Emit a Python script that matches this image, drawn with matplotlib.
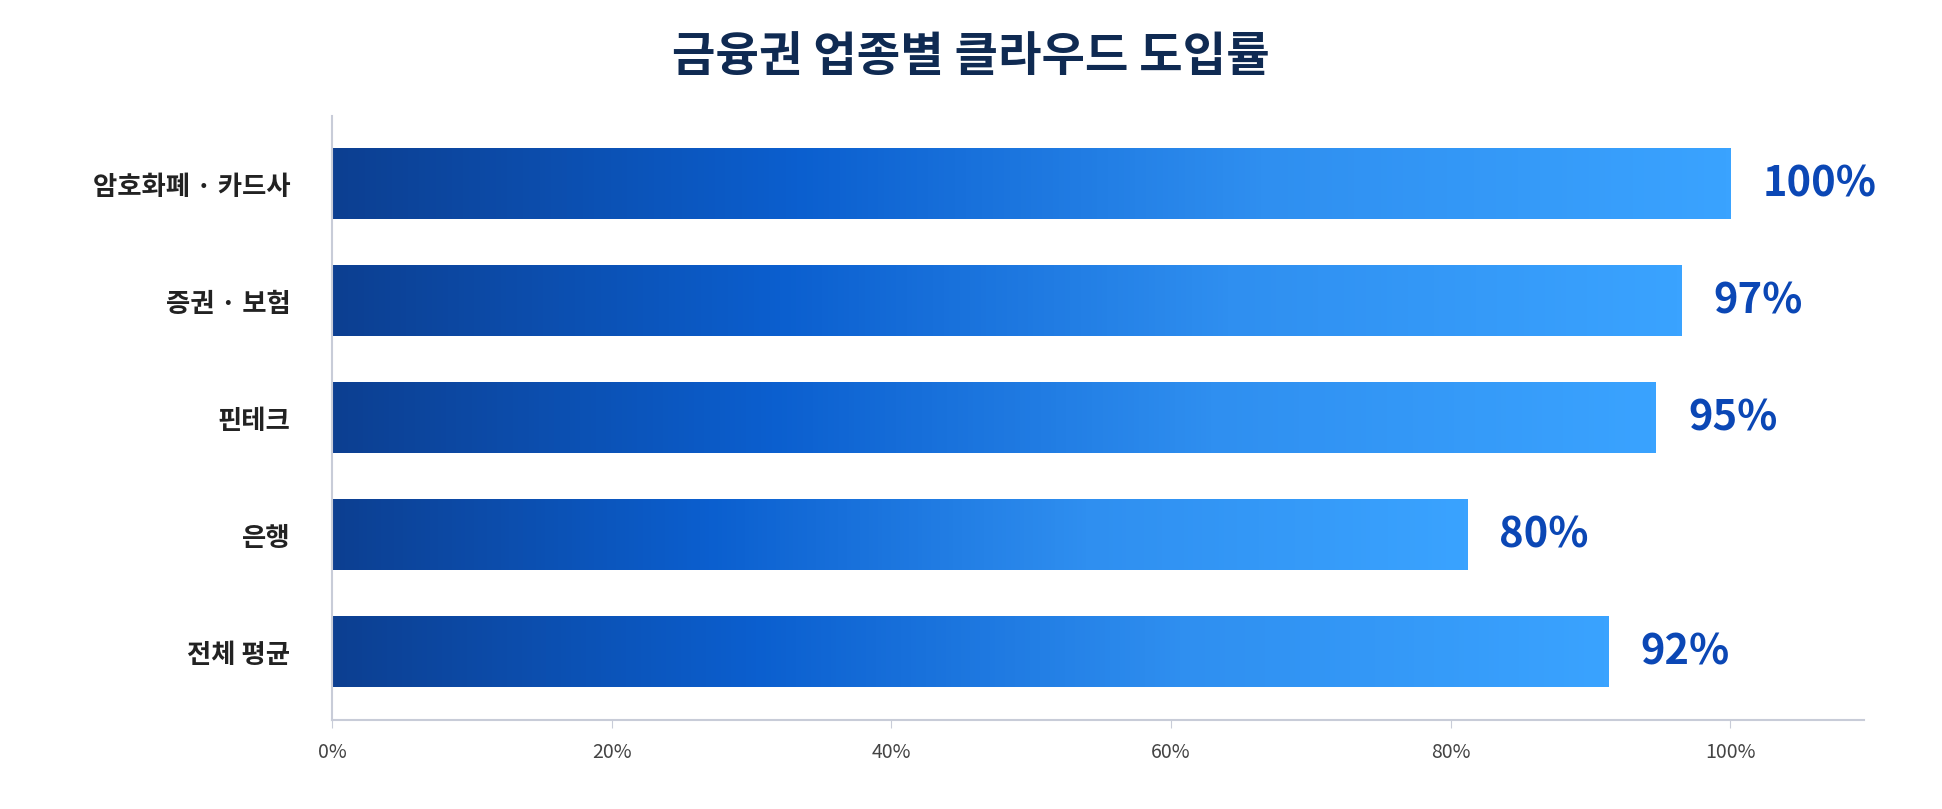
# Horizontal bar chart: cloud adoption rate by financial sector

import numpy as np
import matplotlib.pyplot as plt
from matplotlib.colors import LinearSegmentedColormap

plt.rcParams['font.family'] = ['Noto Sans CJK KR', 'DejaVu Sans']

# data
# ---
categories = ["암호화폐 · 카드사", "증권 · 보험", "핀테크", "은행", "전체 평균"]
bar_values = [100, 96.5, 94.7, 81.2, 91.3]
value_labels = ["100%", "97%", "95%", "80%", "92%"]
xticks = [0, 20, 40, 60, 80, 100]
xtick_labels = ["0%", "20%", "40%", "60%", "80%", "100%"]

cmap = LinearSegmentedColormap.from_list(
    "bar", ["#0d3f91", "#0b5fcf", "#2f8ff0", "#3aa3ff"])

fig = plt.figure(figsize=(19.42, 8.09), dpi=100)
ax = fig.add_axes([0.171, 0.11, 0.789, 0.746])

grad = np.linspace(0, 1, 256).reshape(1, -1)
bar_h = 0.6
for i, (v, lab) in enumerate(zip(bar_values, value_labels)):
    y = len(categories) - 1 - i
    ax.imshow(grad, cmap=cmap, aspect='auto',
              extent=[0, v, y - bar_h / 2, y + bar_h / 2], zorder=2)
    ax.text(v + 2.3, y, lab, va='center', ha='left', fontsize=30,
            fontweight='bold', color='#0b47b5')

ax.set_xlim(0, 109.6)
ax.set_ylim(-0.58, len(categories) - 1 + 0.58)
ax.set_yticks(range(len(categories)))
ax.set_yticklabels(categories[::-1], fontsize=19, fontweight='bold', color='#222222')
ax.set_xticks(xticks)
ax.set_xticklabels(xtick_labels, fontsize=14, color='#444444')
ax.tick_params(axis='y', length=0, pad=30)
ax.tick_params(axis='x', length=6, color='#c8ccd8', pad=10)
for s in ['top', 'right']:
    ax.spines[s].set_visible(False)
for s in ['left', 'bottom']:
    ax.spines[s].set_color('#c8ccd8')
    ax.spines[s].set_linewidth(1.5)

fig.text(0.5, 0.93, "금융권 업종별 클라우드 도입률", ha='center', va='center',
         fontsize=34, fontweight='bold', color='#0f2a52')

fig.savefig("out.png", dpi=100)
plt.close()
